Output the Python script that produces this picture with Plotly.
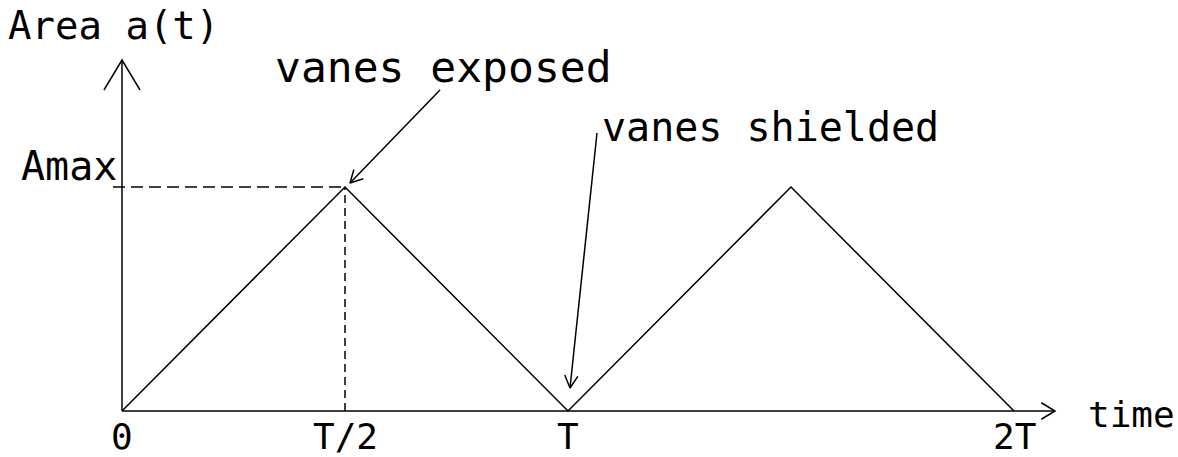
import math
import plotly.graph_objects as go

# ---------------- data ----------------
t_values = [0.0, 0.5, 1.0, 1.5, 2.0]          # time in units of T
area_values = [0.0, 1.0, 0.0, 1.0, 0.0]       # area in units of Amax
tick_positions = [0.0, 0.5, 1.0, 2.0]
tick_labels = ["0", "T/2", "T", "2T"]
amax_value = 1.0
amax_label = "Amax"
y_title = "Area a(t)"
x_title = "time"
note_exposed = "vanes exposed"
note_shielded = "vanes shielded"

# ---------------- layout geometry ----------------
W, H = 1178, 457
X0_PX, PX_PER_T = 122, 446
Y0_PX, PX_PER_A = 411, 224


def to_data(px, py):
    return (px - X0_PX) / PX_PER_T, (Y0_PX - py) / PX_PER_A


def to_px(x, y):
    return X0_PX + x * PX_PER_T, Y0_PX - y * PX_PER_A


x_range = [to_data(0, 0)[0], to_data(W, 0)[0]]
y_range = [to_data(0, H)[1], to_data(0, 0)[1]]

x_axis_end = to_data(1055, 0)[0]
y_axis_end = to_data(0, 60)[1]

FONT = "DejaVu Sans Mono"


def open_head(tip_px, tail_px, length, half_angle):
    dx, dy = tail_px[0] - tip_px[0], tail_px[1] - tip_px[1]
    n = math.hypot(dx, dy)
    ux, uy = dx / n, dy / n
    a = math.radians(half_angle)
    pts = []
    for s in (1, -1):
        c, si = math.cos(s * a), math.sin(s * a)
        wx = tip_px[0] + length * (ux * c - uy * si)
        wy = tip_px[1] + length * (ux * si + uy * c)
        pts.append(to_data(wx, wy))
    tip = to_data(*tip_px)
    return [pts[0][0], tip[0], pts[1][0]], [pts[0][1], tip[1], pts[1][1]]


fig = go.Figure()


def add_line(xs, ys, dash="solid"):
    fig.add_trace(go.Scatter(x=xs, y=ys, mode="lines",
                             line=dict(color="black", width=1.5, dash=dash),
                             hoverinfo="skip", showlegend=False))


# axes
add_line([0, x_axis_end], [0, 0])
add_line([0, 0], [0, y_axis_end])
hx, hy = open_head(to_px(0, y_axis_end), to_px(0, 0), 35, 31)
add_line(hx, hy)
hx, hy = open_head(to_px(x_axis_end, 0), to_px(0, 0), 16, 31)
add_line(hx, hy)

# dashed guides to the first peak
peak_t = t_values[area_values.index(max(area_values))]
add_line([to_data(X0_PX - 9, 0)[0], peak_t], [amax_value, amax_value], dash="12px,6px")
add_line([peak_t, peak_t], [0, amax_value], dash="8px,5px")

# triangle wave
add_line(t_values, area_values)

# leader arrows
for tail_px, tip_px in [((440, 90), (350, 183)), ((597, 133), (570, 388))]:
    a = to_data(*tail_px)
    b = to_data(*tip_px)
    add_line([a[0], b[0]], [a[1], b[1]])
    hx, hy = open_head(tip_px, tail_px, 14, 28)
    add_line(hx, hy)

annotations = []
for pos, lab in zip(tick_positions, tick_labels):
    annotations.append(dict(x=pos, y=to_data(0, 436)[1], text=lab, showarrow=False,
                            xanchor="center", yanchor="middle",
                            font=dict(family=FONT, size=36, color="black")))

ax_, ay_ = to_data(119, 166)
annotations.append(dict(x=ax_, y=ay_, text=amax_label, showarrow=False,
                        xanchor="right", yanchor="middle",
                        font=dict(family=FONT, size=40, color="black")))

tx, ty = to_data(6, 25)
annotations.append(dict(x=tx, y=ty, text=y_title, showarrow=False,
                        xanchor="left", yanchor="middle",
                        font=dict(family=FONT, size=39, color="black")))

tx, ty = to_data(1086, 414)
annotations.append(dict(x=tx, y=ty, text=x_title, showarrow=False,
                        xanchor="left", yanchor="middle",
                        font=dict(family=FONT, size=36, color="black")))

tx, ty = to_data(273, 67)
annotations.append(dict(x=tx, y=ty, text=note_exposed, showarrow=False,
                        xanchor="left", yanchor="middle",
                        font=dict(family=FONT, size=43, color="black")))

tx, ty = to_data(600, 127)
annotations.append(dict(x=tx, y=ty, text=note_shielded, showarrow=False,
                        xanchor="left", yanchor="middle",
                        font=dict(family=FONT, size=40, color="black")))

fig.update_layout(
    width=W, height=H,
    margin=dict(l=0, r=0, t=0, b=0),
    paper_bgcolor="white", plot_bgcolor="white",
    xaxis=dict(range=x_range, visible=False, fixedrange=True),
    yaxis=dict(range=y_range, visible=False, fixedrange=True),
    annotations=annotations,
)

fig.write_html(
    "out.html",
    config={"displayModeBar": False},
    post_script="document.body.style.margin='0';document.body.style.overflow='hidden';",
)
